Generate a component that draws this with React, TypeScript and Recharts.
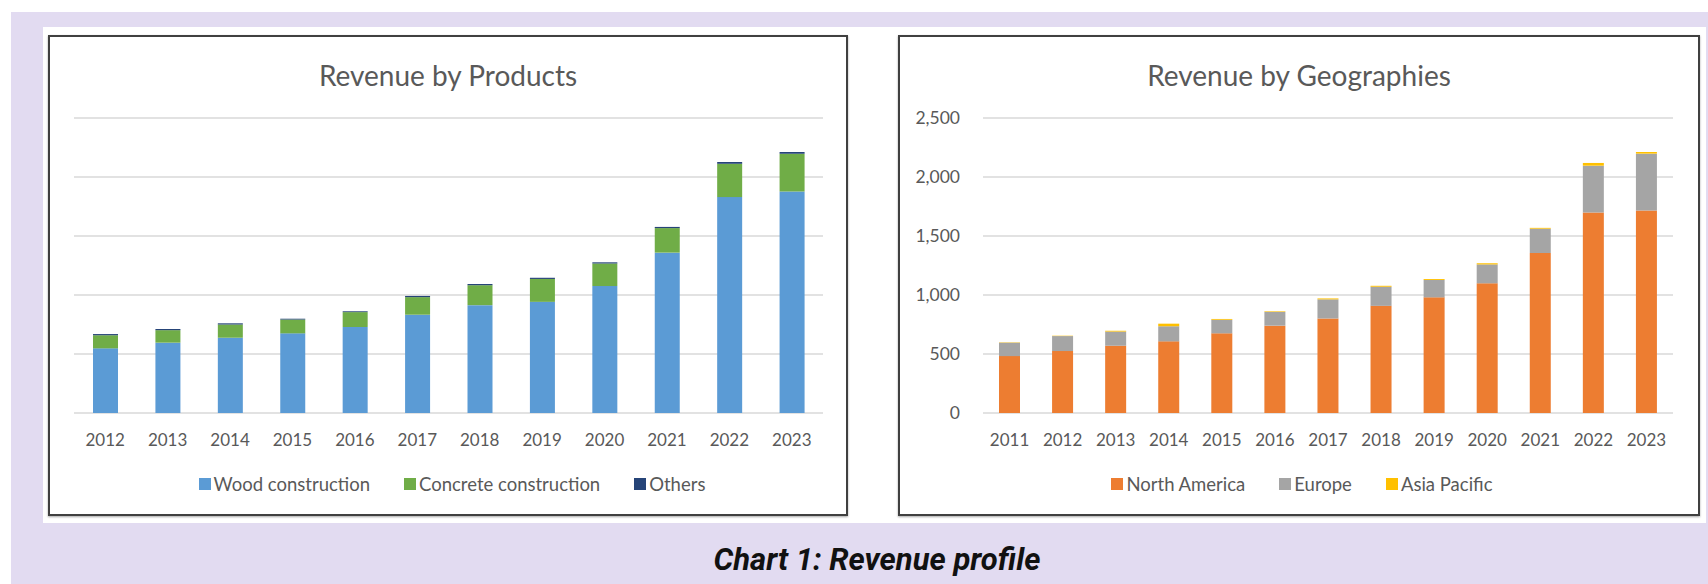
import React from 'react';
import { BarChart, Bar, XAxis, YAxis, CartesianGrid, Legend } from 'recharts';

const productYears = ['2012', '2013', '2014', '2015', '2016', '2017', '2018', '2019', '2020', '2021', '2022', '2023'];
const woodConstruction = [548, 596, 638, 675, 729, 833, 914, 942, 1076, 1359, 1830, 1878];
const concreteConstruction = [111, 106, 112, 117, 126, 149, 169, 194, 191, 208, 282, 319];
const othersProducts = [10, 10, 10, 7, 7, 10, 10, 10, 10, 10, 15, 15];
const productSeriesNames = ['Wood construction', 'Concrete construction', 'Others'];

const geoYears = ['2011', '2012', '2013', '2014', '2015', '2016', '2017', '2018', '2019', '2020', '2021', '2022', '2023'];
const northAmerica = [482, 525, 570, 607, 675, 740, 801, 908, 980, 1099, 1356, 1699, 1716];
const europe = [114, 127, 120, 128, 115, 117, 162, 162, 147, 160, 206, 397, 482];
const asiaPacific = [3, 3, 7, 22, 7, 5, 8, 8, 8, 10, 7, 23, 14];
const geoSeriesNames = ['North America', 'Europe', 'Asia Pacific'];

const yTicks = [0, 500, 1000, 1500, 2000, 2500];

const productData = productYears.map((y, i) => ({
  year: y,
  wood: woodConstruction[i],
  concrete: concreteConstruction[i],
  others: othersProducts[i],
}));

const geoData = geoYears.map((y, i) => ({
  year: y,
  na: northAmerica[i],
  eu: europe[i],
  ap: asiaPacific[i],
}));

const FONT = 'Lato, "Open Sans", sans-serif';
const TXT = '#595959';

const makeLegend = (shift: number, order: string[]) => (props: any) => {
  const payload = [...(props.payload || [])].sort(
    (a: any, b: any) => order.indexOf(a.value) - order.indexOf(b.value)
  );
  return (
    <div
      style={{
        display: 'flex',
        justifyContent: 'center',
        gap: 34,
        fontFamily: FONT,
        fontSize: 18.5,
        color: TXT,
        lineHeight: '22px',
        paddingLeft: shift,
      }}
    >
      {payload.map((e: any) => (
        <span key={e.value} style={{ display: 'flex', alignItems: 'center' }}>
          <span
            style={{
              width: 12,
              height: 12,
              background: e.color,
              marginRight: 3,
              display: 'inline-block',
            }}
          />
          {e.value}
        </span>
      ))}
    </div>
  );
};

const fmt = (v: number) => v.toLocaleString('en-US');

const Box = ({ left, width, title }: { left: number; width: number; title: string }) => (
  <>
    <div
      style={{
        position: 'absolute',
        left: left - 1,
        top: 35,
        width: width + 2,
        height: 481,
        boxSizing: 'border-box',
        border: '2px solid #404040',
        boxShadow: '0 1px 2px rgba(0,0,0,0.35)',
        pointerEvents: 'none',
      }}
    />
    <div
      style={{
        position: 'absolute',
        left,
        top: 57,
        width,
        textAlign: 'center',
        fontFamily: FONT,
        fontSize: 28,
        color: TXT,
        lineHeight: '36px',
      }}
    >
      {title}
    </div>
  </>
);

export default function App() {
  return (
    <div
      style={{
        position: 'absolute',
        left: 0,
        top: 0,
        width: 1708,
        height: 584,
        background: '#ffffff',
        overflow: 'hidden',
      }}
    >
      <div style={{ position: 'absolute', left: 11, top: 12, width: 1697, height: 572, background: '#E2DBF1' }} />
      <div style={{ position: 'absolute', left: 43, top: 27, width: 1663, height: 496, background: '#ffffff' }} />

      <div style={{ position: 'absolute', left: 49, top: 36, width: 798, height: 479 }}>
        <BarChart
          width={798}
          height={479}
          data={productData}
          margin={{ top: 82, right: 24, left: 25, bottom: 72 }}
        >
          <CartesianGrid vertical={false} stroke="#D9D9D9" strokeWidth={1.5} />
          <XAxis
            dataKey="year"
            axisLine={false}
            tickLine={false}
            tickMargin={15}
            height={30}
            tick={{ fill: TXT, fontSize: 17, fontFamily: FONT }}
            interval={0}
          />
          <YAxis hide domain={[0, 2500]} ticks={yTicks} />
          <Legend
            verticalAlign="middle"
            align="center"
            itemSorter={null as any}
            wrapperStyle={{ top: 437, left: 0, width: 798 }}
            content={makeLegend(8, productSeriesNames)}
          />
          <Bar dataKey="wood" name={productSeriesNames[0]} stackId="a" fill="#5B9BD5" barSize={25} isAnimationActive={false} />
          <Bar dataKey="concrete" name={productSeriesNames[1]} stackId="a" fill="#70AD47" barSize={25} isAnimationActive={false} />
          <Bar dataKey="others" name={productSeriesNames[2]} stackId="a" fill="#264478" barSize={25} isAnimationActive={false} />
        </BarChart>
      </div>
      <Box left={49} width={798} title="Revenue by Products" />

      <div style={{ position: 'absolute', left: 899, top: 36, width: 800, height: 479 }}>
        <BarChart
          width={800}
          height={479}
          data={geoData}
          margin={{ top: 82, right: 26, left: 24, bottom: 72 }}
        >
          <CartesianGrid vertical={false} stroke="#D9D9D9" strokeWidth={1.5} />
          <XAxis
            dataKey="year"
            axisLine={false}
            tickLine={false}
            tickMargin={15}
            height={30}
            tick={{ fill: TXT, fontSize: 17, fontFamily: FONT }}
            interval={0}
          />
          <YAxis
            domain={[0, 2500]}
            ticks={yTicks}
            width={60}
            axisLine={false}
            tickLine={false}
            tickMargin={17}
            tickFormatter={fmt}
            tick={{ fill: TXT, fontSize: 17.5, fontFamily: FONT }}
          />
          <Legend
            verticalAlign="middle"
            align="center"
            itemSorter={null as any}
            wrapperStyle={{ top: 437, left: 0, width: 800 }}
            content={makeLegend(6, geoSeriesNames)}
          />
          <Bar dataKey="na" name={geoSeriesNames[0]} stackId="g" fill="#ED7D31" barSize={21} isAnimationActive={false} />
          <Bar dataKey="eu" name={geoSeriesNames[1]} stackId="g" fill="#A5A5A5" barSize={21} isAnimationActive={false} />
          <Bar dataKey="ap" name={geoSeriesNames[2]} stackId="g" fill="#FFC000" barSize={21} isAnimationActive={false} />
        </BarChart>
      </div>
      <Box left={899} width={800} title="Revenue by Geographies" />

      <div
        style={{
          position: 'absolute',
          left: 477,
          top: 540,
          width: 800,
          textAlign: 'center',
          fontFamily: 'Roboto, sans-serif',
          fontWeight: 700,
          fontStyle: 'italic',
          fontSize: 31,
          lineHeight: '40px',
          color: '#111111',
        }}
      >
        Chart 1: Revenue profile
      </div>
    </div>
  );
}
